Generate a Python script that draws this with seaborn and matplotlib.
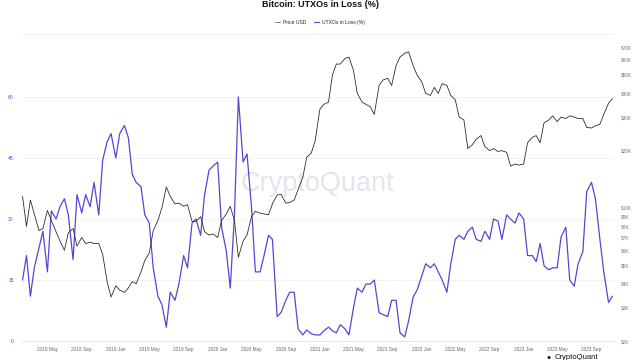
import matplotlib
matplotlib.use("Agg")
import matplotlib.pyplot as plt
import matplotlib.dates as mdates
import matplotlib.ticker as mticker
from matplotlib.lines import Line2D
import pandas as pd
import seaborn as sns

# Semi-monthly samples (1st and 15th)
start_date = "2018-02-01"

utxo_loss_pct = [
    15, 21, 11, 18, 23, 27, 17, 32, 30, 33,
    35, 31, 20, 36, 31.5, 36, 33, 39, 31, 44.5,
    49, 51, 45, 51, 53, 50, 41, 39, 38, 31,
    29, 18, 11, 9, 3.4, 12, 10, 14, 21, 18,
    29, 30, 26, 36, 42, 43, 44, 28, 22, 13,
    31, 60, 44, 46, 33, 17, 17, 21, 26, 25,
    6, 7, 10, 12, 12, 3, 1.5, 2.7, 1.8, 1.5,
    1.5, 2.5, 3.4, 2.5, 2, 4, 3, 1.5, 8, 13,
    12, 14, 14, 15, 7, 6.5, 6, 10, 10, 2,
    1, 5, 10.8, 12.5, 16, 19, 18, 19, 17, 15,
    12, 19, 25, 26, 25, 27, 28, 25, 24.5, 27,
    25, 30, 29.5, 25, 31, 30, 29, 31.5, 30, 21,
    21, 19.5, 24, 18.5, 17.5, 18, 18, 25.6, 28, 15,
    13.5, 19, 22, 36.8, 39, 35, 25, 17, 9.5, 11,
]

price_usd_k = [
    11.5, 8, 11, 9.3, 7.6, 7.8, 9.7, 8.6, 7.5, 6.7,
    6.0, 7.4, 7.8, 6.3, 7.0, 6.5, 6.6, 6.5, 6.5, 5.7,
    4.1, 3.4, 3.9, 3.7, 3.6, 3.8, 4.1, 4.0, 4.6, 5.3,
    5.8, 7.6, 8.6, 10, 12.9, 11.5, 10.5, 10.6, 10.2, 10.4,
    8.5, 8.5, 9.0, 7.5, 7.2, 7.3, 7.0, 8.6, 9.3, 10.2,
    8.6, 5.5, 6.7, 7.2, 9.0, 9.6, 9.4, 9.3, 9.2, 10.5,
    11.7, 11.8, 10.6, 10.7, 11.0, 12.5, 14.5, 18.5, 19.4, 22.5,
    33, 35, 36, 50, 57, 57, 61, 62, 53, 40,
    36, 35, 34, 31, 44, 47, 48, 44, 56, 62,
    65, 66, 56, 50, 46, 40, 39, 43, 40, 45,
    44, 39, 37, 30, 29, 20.5, 21.5, 23, 24, 21,
    20, 20.5, 19.8, 20, 19.6, 16.6, 17, 16.8, 17, 22,
    23.5, 24, 22, 28, 29, 30.5, 28.4, 30, 29.5, 30.5,
    30, 29.5, 29.5, 26.5, 26.3, 27, 27.5, 31, 35.5, 37.5,
]

pct_ticks = [0, 15, 30, 45, 60]
price_ticks_k = [2, 3, 4, 5, 6, 7, 8, 9, 10, 20, 30, 40, 50, 60, 70]
series_names = ["Price USD", "UTXOs in Loss (%)"]
title = "Bitcoin: UTXOs in Loss (%)"

BLUE = "#5546d6"
BLACK = "#2e2e2e"

df = pd.DataFrame({
    "date": pd.date_range(start_date, periods=len(utxo_loss_pct), freq="SMS"),
    "utxo": utxo_loss_pct,
    "price": [p * 1000 for p in price_usd_k],
})

sns.set_theme(style="white")
plt.rcParams["font.family"] = ["Liberation Sans", "DejaVu Sans"]

fig = plt.figure(figsize=(6.4, 3.6), dpi=100)
ax = fig.add_axes([22 / 640, 19 / 360, 591 / 640, 307 / 360])

# faint watermark behind the lines
ax.text(0.5, 0.51, "CryptoQuant", transform=ax.transAxes, ha="center", va="center",
        fontsize=19.5, color="#e4e4ec", zorder=0)

sns.lineplot(data=df, x="date", y="utxo", ax=ax, color=BLUE, linewidth=0.9)
ax2 = ax.twinx()
sns.lineplot(data=df, x="date", y="price", ax=ax2, color=BLACK, linewidth=0.6)

# left axis
ax.set_ylim(0, 75.5)
ax.set_yticks(pct_ticks)
ax.yaxis.grid(True, color="#f0f0f0", linewidth=0.6)
ax.tick_params(axis="y", length=0, labelsize=3.6, labelcolor=BLUE, pad=6)
ax.set_xlim(pd.Timestamp("2018-01-30"), pd.Timestamp("2023-11-17"))
ax.xaxis.set_major_locator(mdates.MonthLocator(bymonth=[1, 5, 9]))
ax.xaxis.set_major_formatter(mdates.DateFormatter("%Y %b"))
ax.tick_params(axis="x", length=2.5, width=0.5, color="#dddddd",
               labelsize=3.4, labelcolor="#666666", pad=2)
ax.set_xlabel("")
ax.set_ylabel("")

# right axis (log)
ax2.set_yscale("log")
ax2.set_ylim(2000, 82000)
ax2.yaxis.set_major_locator(mticker.FixedLocator([t * 1000 for t in price_ticks_k]))
ax2.yaxis.set_minor_locator(mticker.NullLocator())
ax2.yaxis.set_major_formatter(mticker.FuncFormatter(lambda v, _: f"${v / 1000:.0f}K"))
ax2.tick_params(axis="y", length=0, labelsize=3.4, labelcolor="#777777", pad=6)
ax2.set_ylabel("")

for a in (ax, ax2):
    for side in ("left", "right"):
        a.spines[side].set_visible(False)
    a.spines["top"].set_color("#f2f2f2")
    a.spines["top"].set_linewidth(0.6)
    a.spines["bottom"].set_color("#e6e6e6")
    a.spines["bottom"].set_linewidth(0.6)

fig.text(0.5, 1 - 7 / 360, title, ha="center", va="baseline",
         fontsize=6.5, fontweight="bold", color="#111111")

handles = [Line2D([], [], color="#666666", linewidth=0.6),
           Line2D([], [], color=BLUE, linewidth=0.8)]
fig.legend(handles, series_names, loc="center", bbox_to_anchor=(0.5, 1 - 22.5 / 360),
           ncol=2, frameon=False, fontsize=3.6, handlelength=1.0,
           handletextpad=0.5, columnspacing=1.6)

# bottom-right brand mark, kept below the date labels
fig.text(549 / 640, 1 / 360, "\u25CF", ha="center", va="baseline", fontsize=5, color="#111111")
fig.text(555 / 640, 1 / 360, "CryptoQuant", ha="left", va="baseline",
         fontsize=5.5, color="#111111")

fig.savefig("out.png", dpi=100)
plt.close(fig)
